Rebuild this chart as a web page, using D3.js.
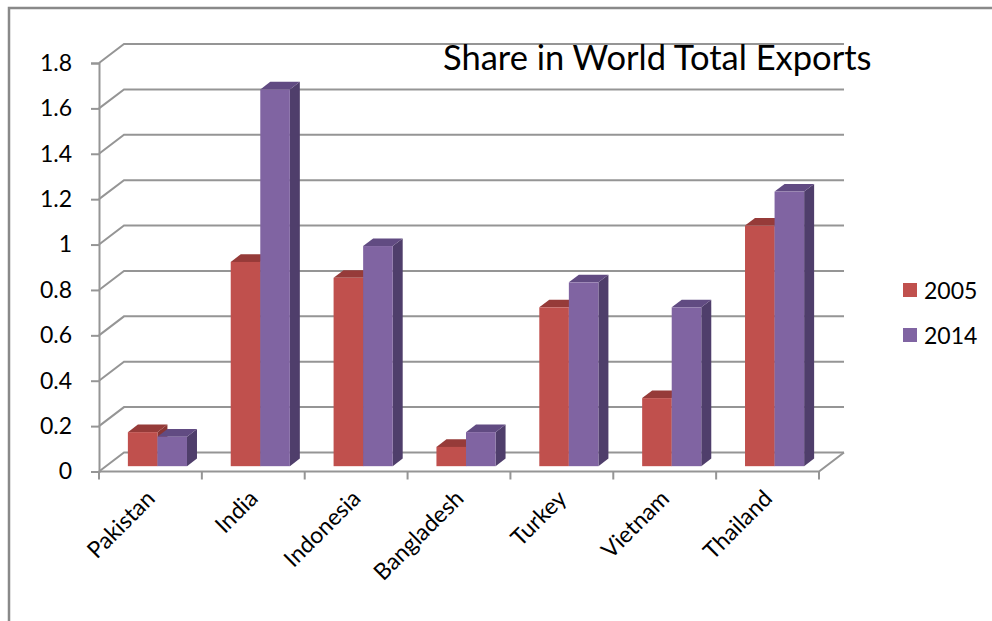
<!DOCTYPE html>
<html>
<head>
<meta charset="utf-8">
<script src="https://cdn.jsdelivr.net/npm/d3@7"></script>
<style>
  body { margin:0; background:#fff; }
  svg { display:block; font-family: Lato, "Noto Sans", sans-serif; }
</style>
</head>
<body>
<svg id="chart"></svg>
<script>
// data
var countries = ["Pakistan","India","Indonesia","Bangladesh","Turkey","Vietnam","Thailand"];
var years = ["2005","2014"];
var share2005 = [0.15, 0.90, 0.83, 0.085, 0.70, 0.30, 1.06];
var share2014 = [0.13, 1.66, 0.97, 0.15, 0.81, 0.70, 1.21];
var yTicks = [0, 0.2, 0.4, 0.6, 0.8, 1, 1.2, 1.4, 1.6, 1.8];
var colors = {"2005":"#c0504d","2014":"#8064a2"};
var topColors = {"2005":"#963b39","2014":"#614b82"};
var sideColors = {"2005":"#8a3533","2014":"#4f3e6b"};

var screen = {width:992, height:621};
var floor = {left:99, right:819, y:471.5, top:63};
// 3d depth direction of the plot box
var depth = {dx:25, dy:-19};

var svg = d3.select("#chart")
    .attr("width",screen.width)
    .attr("height",screen.height);

// frame
svg.append("path")
    .attr("d","M9,621 L9,8 L992,8")
    .attr("fill","none")
    .attr("stroke","#898989")
    .attr("stroke-width",2.5);

var xScale = d3.scaleBand()
    .domain(countries)
    .range([floor.left, floor.right]);

var yScale = d3.scaleLinear()
    .domain([0,1.8])
    .range([floor.y, floor.top]);

var xSub = d3.scaleBand()
    .domain(years)
    .range([0, xScale.bandwidth()])
    .paddingInner(0)
    .paddingOuter(0.74);

var grid = svg.append("g").attr("stroke","#959595").attr("stroke-width",2).attr("fill","none");

// back wall gridlines and left wall diagonals
yTicks.forEach(function(t)
{
    var y = yScale(t);
    grid.append("path")
        .attr("d","M"+floor.left+","+y+" L"+(floor.left+depth.dx)+","+(y+depth.dy)
             +" L"+(floor.right+depth.dx)+","+(y+depth.dy));
});

// floor front edge and right diagonal
grid.append("path")
    .attr("d","M"+floor.left+","+floor.y+" L"+floor.right+","+floor.y
         +" L"+(floor.right+depth.dx)+","+(floor.y+depth.dy));

// y axis line + ticks
var yAxis = d3.axisLeft(yScale)
    .tickValues(yTicks)
    .tickSize(8)
    .tickPadding(19)
    .tickFormat(function(d){ return String(d); });

var yg = svg.append("g")
    .attr("transform","translate("+floor.left+",0)")
    .call(yAxis);
yg.select(".domain").attr("stroke","#959595").attr("stroke-width",2);
yg.selectAll(".tick line").attr("stroke","#959595").attr("stroke-width",2);
yg.selectAll(".tick text")
    .attr("fill","#000")
    .style("font-size","23px")
    .style("font-family","Lato, sans-serif");

// x ticks on band edges
var edges = countries.map(function(c){ return xScale(c); }).concat([floor.right]);
svg.append("g").selectAll("line")
    .data(edges)
    .enter()
    .append("line")
    .attr("x1",function(d){ return d; })
    .attr("x2",function(d){ return d; })
    .attr("y1",floor.y)
    .attr("y2",floor.y+8)
    .attr("stroke","#959595")
    .attr("stroke-width",2);

// category labels
svg.append("g").selectAll("text")
    .data(countries)
    .enter()
    .append("text")
    .attr("text-anchor","end")
    .attr("transform",function(c)
    {
        var x = xScale(c) + xScale.bandwidth()/2 + 6;
        return "translate("+x+",500) rotate(-45)";
    })
    .style("font-size","23px")
    .text(function(c){ return c; });

// bars
var f1 = 0.28, f2 = 0.68;
var bars = [];
countries.forEach(function(c,i)
{
    bars.push({country:c, year:"2005", value:share2005[i]});
    bars.push({country:c, year:"2014", value:share2014[i]});
});

var barG = svg.append("g");
bars.forEach(function(b)
{
    var x0 = xScale(b.country) + xSub(b.year) + f1*depth.dx;
    var x1 = x0 + xSub.bandwidth();
    var yb = yScale(0) + f1*depth.dy;
    var yt = yScale(b.value) + f1*depth.dy;
    var ox = (f2-f1)*depth.dx, oy = (f2-f1)*depth.dy;
    var g = barG.append("g");
    g.append("path")
        .attr("d","M"+x1+","+yb+" L"+(x1+ox)+","+(yb+oy)+" L"+(x1+ox)+","+(yt+oy)+" L"+x1+","+yt+" Z")
        .attr("fill",sideColors[b.year]);
    g.append("path")
        .attr("d","M"+x0+","+yt+" L"+x1+","+yt+" L"+(x1+ox)+","+(yt+oy)+" L"+(x0+ox)+","+(yt+oy)+" Z")
        .attr("fill",topColors[b.year]);
    g.append("rect")
        .attr("x",x0)
        .attr("y",yt)
        .attr("width",x1-x0)
        .attr("height",yb-yt)
        .attr("fill",colors[b.year]);
});

// title
svg.append("text")
    .attr("x",443)
    .attr("y",70)
    .style("font-size","34.5px")
    .text("Share in World Total Exports");

// legend
var legend = svg.append("g").attr("transform","translate(903,283)");
years.forEach(function(yr,i)
{
    var row = legend.append("g").attr("transform","translate(0,"+(i*45)+")");
    row.append("rect")
        .attr("x",0).attr("y",0)
        .attr("width",14).attr("height",14)
        .attr("fill",colors[yr]);
    row.append("text")
        .attr("x",21)
        .attr("y",16)
        .style("font-size","23px")
        .text(yr);
});
</script>
</body>
</html>
